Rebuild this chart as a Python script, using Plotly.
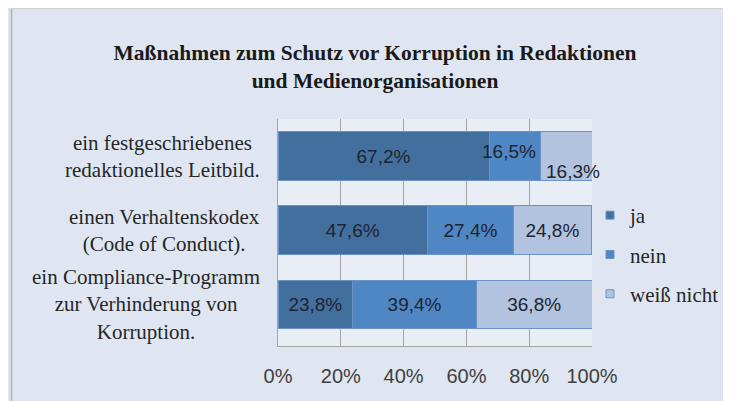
import plotly.graph_objects as go

categories = [
    "ein festgeschriebenes<br>redaktionelles Leitbild.",
    "einen Verhaltenskodex<br>(Code of Conduct).",
    "ein Compliance-Programm<br>zur Verhinderung von<br>Korruption.",
]
series_names = ["ja", "nein", "weiß nicht"]
ja = [67.2, 47.6, 23.8]
nein = [16.5, 27.4, 39.4]
weiss_nicht = [16.3, 24.8, 36.8]
x_ticks = [0, 20, 40, 60, 80, 100]
x_tick_labels = ["0%", "20%", "40%", "60%", "80%", "100%"]
title_text = "Maßnahmen zum Schutz vor Korruption in Redaktionen<br>und Medienorganisationen"

colors = ["#436f9f", "#4f86c4", "#b1c3df"]
line_col = "#6b93c6"

W, H = 731, 401
ML, MR, MT, MB = 270, 147, 111, 63
PW, PH = W - ML - MR, H - MT - MB

def px_x(px):
    return (px - ML) / PW

def px_y(py):
    return (H - MB - py) / PH

def fmt(v):
    return f"{v:.1f}".replace(".", ",") + "%"

label_font = dict(family="Liberation Sans", size=19, color="#1e2530")

series = [ja, nein, weiss_nicht]
fig = go.Figure()
for i, (name, vals) in enumerate(zip(series_names, series)):
    texts = [fmt(v) for v in vals]
    # first row: labels of the two narrow segments are placed as annotations (offset like the original)
    if i > 0:
        texts[0] = ""
    fig.add_trace(go.Bar(
        y=categories, x=vals, name=name, orientation="h",
        marker=dict(color=colors[i], line=dict(color=line_col, width=1)),
        text=texts, textposition="inside", insidetextanchor="middle",
        constraintext="none", textangle=0,
        textfont=label_font,
        legendgroup=name, showlegend=False, cliponaxis=False,
    ))

# legend entries with small square swatches
for i, name in enumerate(series_names):
    fig.add_trace(go.Scatter(
        x=[None], y=[None], mode="markers", name=name, legendgroup=name,
        marker=dict(symbol="square", size=8, color=colors[i],
                    line=dict(color=line_col, width=1)),
        showlegend=True,
    ))

cum0 = ja[0]
fig.add_annotation(x=cum0 + nein[0] / 2, y=categories[0], text=fmt(nein[0]),
                   showarrow=False, xshift=-6, yshift=5, font=label_font)
fig.add_annotation(x=cum0 + nein[0] + weiss_nicht[0] / 2, y=categories[0], text=fmt(weiss_nicht[0]),
                   showarrow=False, xshift=7, yshift=-15, font=label_font)

# category labels (centered multi-line like original)
for c in categories:
    fig.add_annotation(x=px_x(254), xref="paper", y=c, yref="y", text=c,
                       showarrow=False, xanchor="right", align="center",
                       font=dict(family="Liberation Serif", size=21, color="#262626"))

shapes = [
    dict(type="line", xref="paper", yref="paper", x0=px_x(3.5), x1=px_x(3.5),
         y0=px_y(0), y1=px_y(H + 5), line=dict(color="#b0b0b0", width=1.5)),
    dict(type="line", xref="paper", yref="paper", x0=px_x(3), x1=px_x(W + 5),
         y0=px_y(0.5), y1=px_y(0.5), line=dict(color="#d4d4d4", width=1.5)),
]

fig.update_layout(
    width=W, height=H,
    margin=dict(l=ML, r=MR, t=MT, b=MB, pad=0, autoexpand=False),
    barmode="stack", bargap=0.34,
    separators=",.",
    paper_bgcolor="#dfe6f1", plot_bgcolor="#e9eef6",
    title=dict(text=title_text, x=367 / W, xref="container", xanchor="center",
               y=1 - 52 / H, yref="container", yanchor="middle",
               font=dict(family="Liberation Serif", size=21.5, color="#1a1a1a", weight="bold")),
    xaxis=dict(range=[0, 100], tickvals=x_ticks, ticktext=x_tick_labels,
               showgrid=True, gridcolor="#a3a3a3", gridwidth=1,
               showline=True, linecolor="#a3a3a3", linewidth=1, zeroline=False,
               ticks="", ticklabelstandoff=12,
               tickfont=dict(family="Liberation Sans", size=20, color="#404040"),
               fixedrange=True),
    yaxis=dict(autorange="reversed", showticklabels=False, showgrid=False,
               showline=True, linecolor="#a3a3a3", linewidth=1, ticks="",
               fixedrange=True),
    legend=dict(x=px_x(582), xanchor="left", y=px_y(187), yanchor="top",
                traceorder="grouped", tracegroupgap=9, itemwidth=30,
                font=dict(family="Liberation Serif", size=21, color="#262626"),
                bgcolor="rgba(0,0,0,0)"),
    shapes=shapes,
    showlegend=True,
)

fig.write_html("out.html")
